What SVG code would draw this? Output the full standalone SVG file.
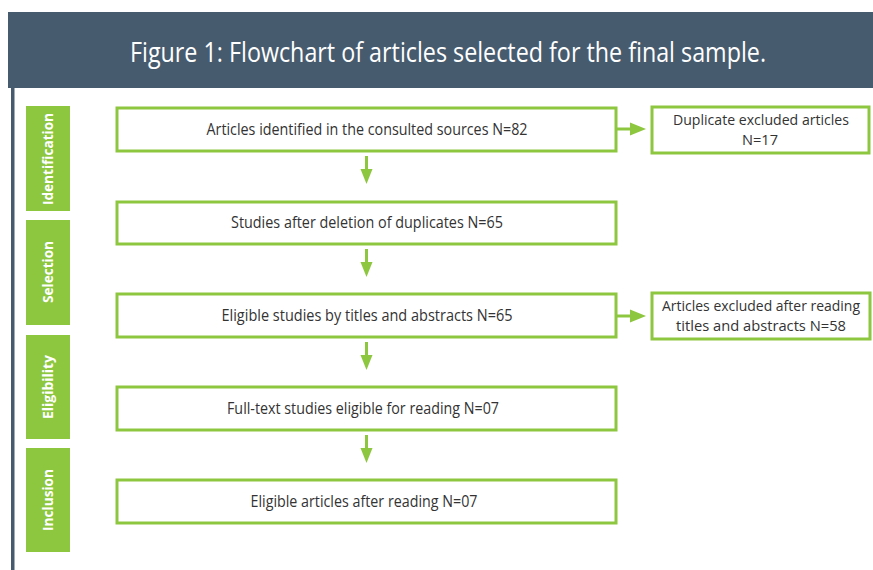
<svg xmlns="http://www.w3.org/2000/svg" width="873" height="570" viewBox="0 0 873 570">
  <defs>
    <style>
      .box { fill: #ffffff; stroke: #8dc63f; stroke-width: 3; }
      .phase { fill: #8dc63f; }
      .txt { font-family: "Open Sans", "Noto Sans", sans-serif; font-size: 15.5px; fill: #333333; text-anchor: middle; }
      .stxt { font-family: "Open Sans", "Noto Sans", sans-serif; font-size: 14px; fill: #333333; text-anchor: middle; }
      .ptxt { font-family: "Open Sans", "Noto Sans", sans-serif; font-size: 14.5px; font-weight: bold; fill: #ffffff; text-anchor: middle; }
      .title { font-family: "Open Sans", "Noto Sans", sans-serif; font-size: 26.5px; fill: #ffffff; text-anchor: middle; }
      .conn { stroke: #8dc63f; stroke-width: 3; fill: none; }
      .head { fill: #8dc63f; }
    </style>
  </defs>

  <rect width="873" height="570" fill="#ffffff"/>

  <!-- title bar -->
  <g id="header">
    <rect x="8" y="12" width="865" height="76" fill="#475b6f"/>
    <text class="title" x="448" y="62" textLength="636" lengthAdjust="spacingAndGlyphs">Figure 1: Flowchart of articles selected for the final sample.</text>
  </g>

  <!-- left rule -->
  <rect x="11" y="88" width="3.5" height="482" fill="#475b6f"/>

  <!-- phase labels -->
  <g id="phase-identification">
    <rect class="phase" x="26" y="106" width="44" height="105"/>
    <text class="ptxt" transform="translate(53,159) rotate(-90)" textLength="92" lengthAdjust="spacingAndGlyphs">Identification</text>
  </g>
  <g id="phase-selection">
    <rect class="phase" x="26" y="220" width="44" height="105"/>
    <text class="ptxt" transform="translate(53,272) rotate(-90)" textLength="62" lengthAdjust="spacingAndGlyphs">Selection</text>
  </g>
  <g id="phase-eligibility">
    <rect class="phase" x="26" y="335" width="44" height="104"/>
    <text class="ptxt" transform="translate(53,387) rotate(-90)" textLength="64" lengthAdjust="spacingAndGlyphs">Eligibility</text>
  </g>
  <g id="phase-inclusion">
    <rect class="phase" x="26" y="448" width="44" height="104"/>
    <text class="ptxt" transform="translate(53,500) rotate(-90)" textLength="62" lengthAdjust="spacingAndGlyphs">Inclusion</text>
  </g>

  <!-- main flow boxes -->
  <g id="identified">
    <rect class="box" x="117" y="108" width="499" height="43"/>
    <text class="txt" x="367" y="135" textLength="321" lengthAdjust="spacingAndGlyphs">Articles identified in the consulted sources N=82</text>
  </g>
  <g id="after-duplicates">
    <rect class="box" x="117" y="202" width="499" height="42"/>
    <text class="txt" x="367" y="228" textLength="272" lengthAdjust="spacingAndGlyphs">Studies after deletion of duplicates N=65</text>
  </g>
  <g id="titles-abstracts">
    <rect class="box" x="117" y="294" width="499" height="43"/>
    <text class="txt" x="367" y="321" textLength="291" lengthAdjust="spacingAndGlyphs">Eligible studies by titles and abstracts N=65</text>
  </g>
  <g id="full-text">
    <rect class="box" x="117" y="387" width="499" height="43"/>
    <text class="txt" x="363" y="414" textLength="272" lengthAdjust="spacingAndGlyphs">Full-text studies eligible for reading N=07</text>
  </g>
  <g id="included">
    <rect class="box" x="117" y="480" width="499" height="43"/>
    <text class="txt" x="364" y="507" textLength="227" lengthAdjust="spacingAndGlyphs">Eligible articles after reading N=07</text>
  </g>

  <!-- exclusion boxes -->
  <g id="duplicates-excluded">
    <rect class="box" x="652" y="107" width="217" height="46"/>
    <text class="stxt" x="761" y="125" textLength="176" lengthAdjust="spacingAndGlyphs">Duplicate excluded articles</text>
    <text class="stxt" x="760" y="145" textLength="36" lengthAdjust="spacingAndGlyphs">N=17</text>
  </g>
  <g id="titles-excluded">
    <rect class="box" x="652" y="293" width="218" height="46"/>
    <text class="stxt" x="761" y="311" textLength="198" lengthAdjust="spacingAndGlyphs">Articles excluded after reading</text>
    <text class="stxt" x="761" y="331" textLength="170" lengthAdjust="spacingAndGlyphs">titles and abstracts N=58</text>
  </g>

  <!-- connectors -->
  <g id="connectors">
    <line class="conn" x1="366.5" y1="156" x2="366.5" y2="171"/>
    <polygon class="head" points="360.5,169 372.5,169 366.5,184"/>
    <line class="conn" x1="366.5" y1="249" x2="366.5" y2="264"/>
    <polygon class="head" points="360.5,262 372.5,262 366.5,277"/>
    <line class="conn" x1="366.5" y1="342" x2="366.5" y2="357"/>
    <polygon class="head" points="360.5,355 372.5,355 366.5,370"/>
    <line class="conn" x1="366.5" y1="435" x2="366.5" y2="450"/>
    <polygon class="head" points="360.5,448 372.5,448 366.5,463"/>
    <line class="conn" x1="617" y1="129" x2="632" y2="129"/>
    <polygon class="head" points="630,122.5 630,135.5 646,129"/>
    <line class="conn" x1="617" y1="316" x2="632" y2="316"/>
    <polygon class="head" points="630,309.5 630,322.5 646,316"/>
  </g>
</svg>
